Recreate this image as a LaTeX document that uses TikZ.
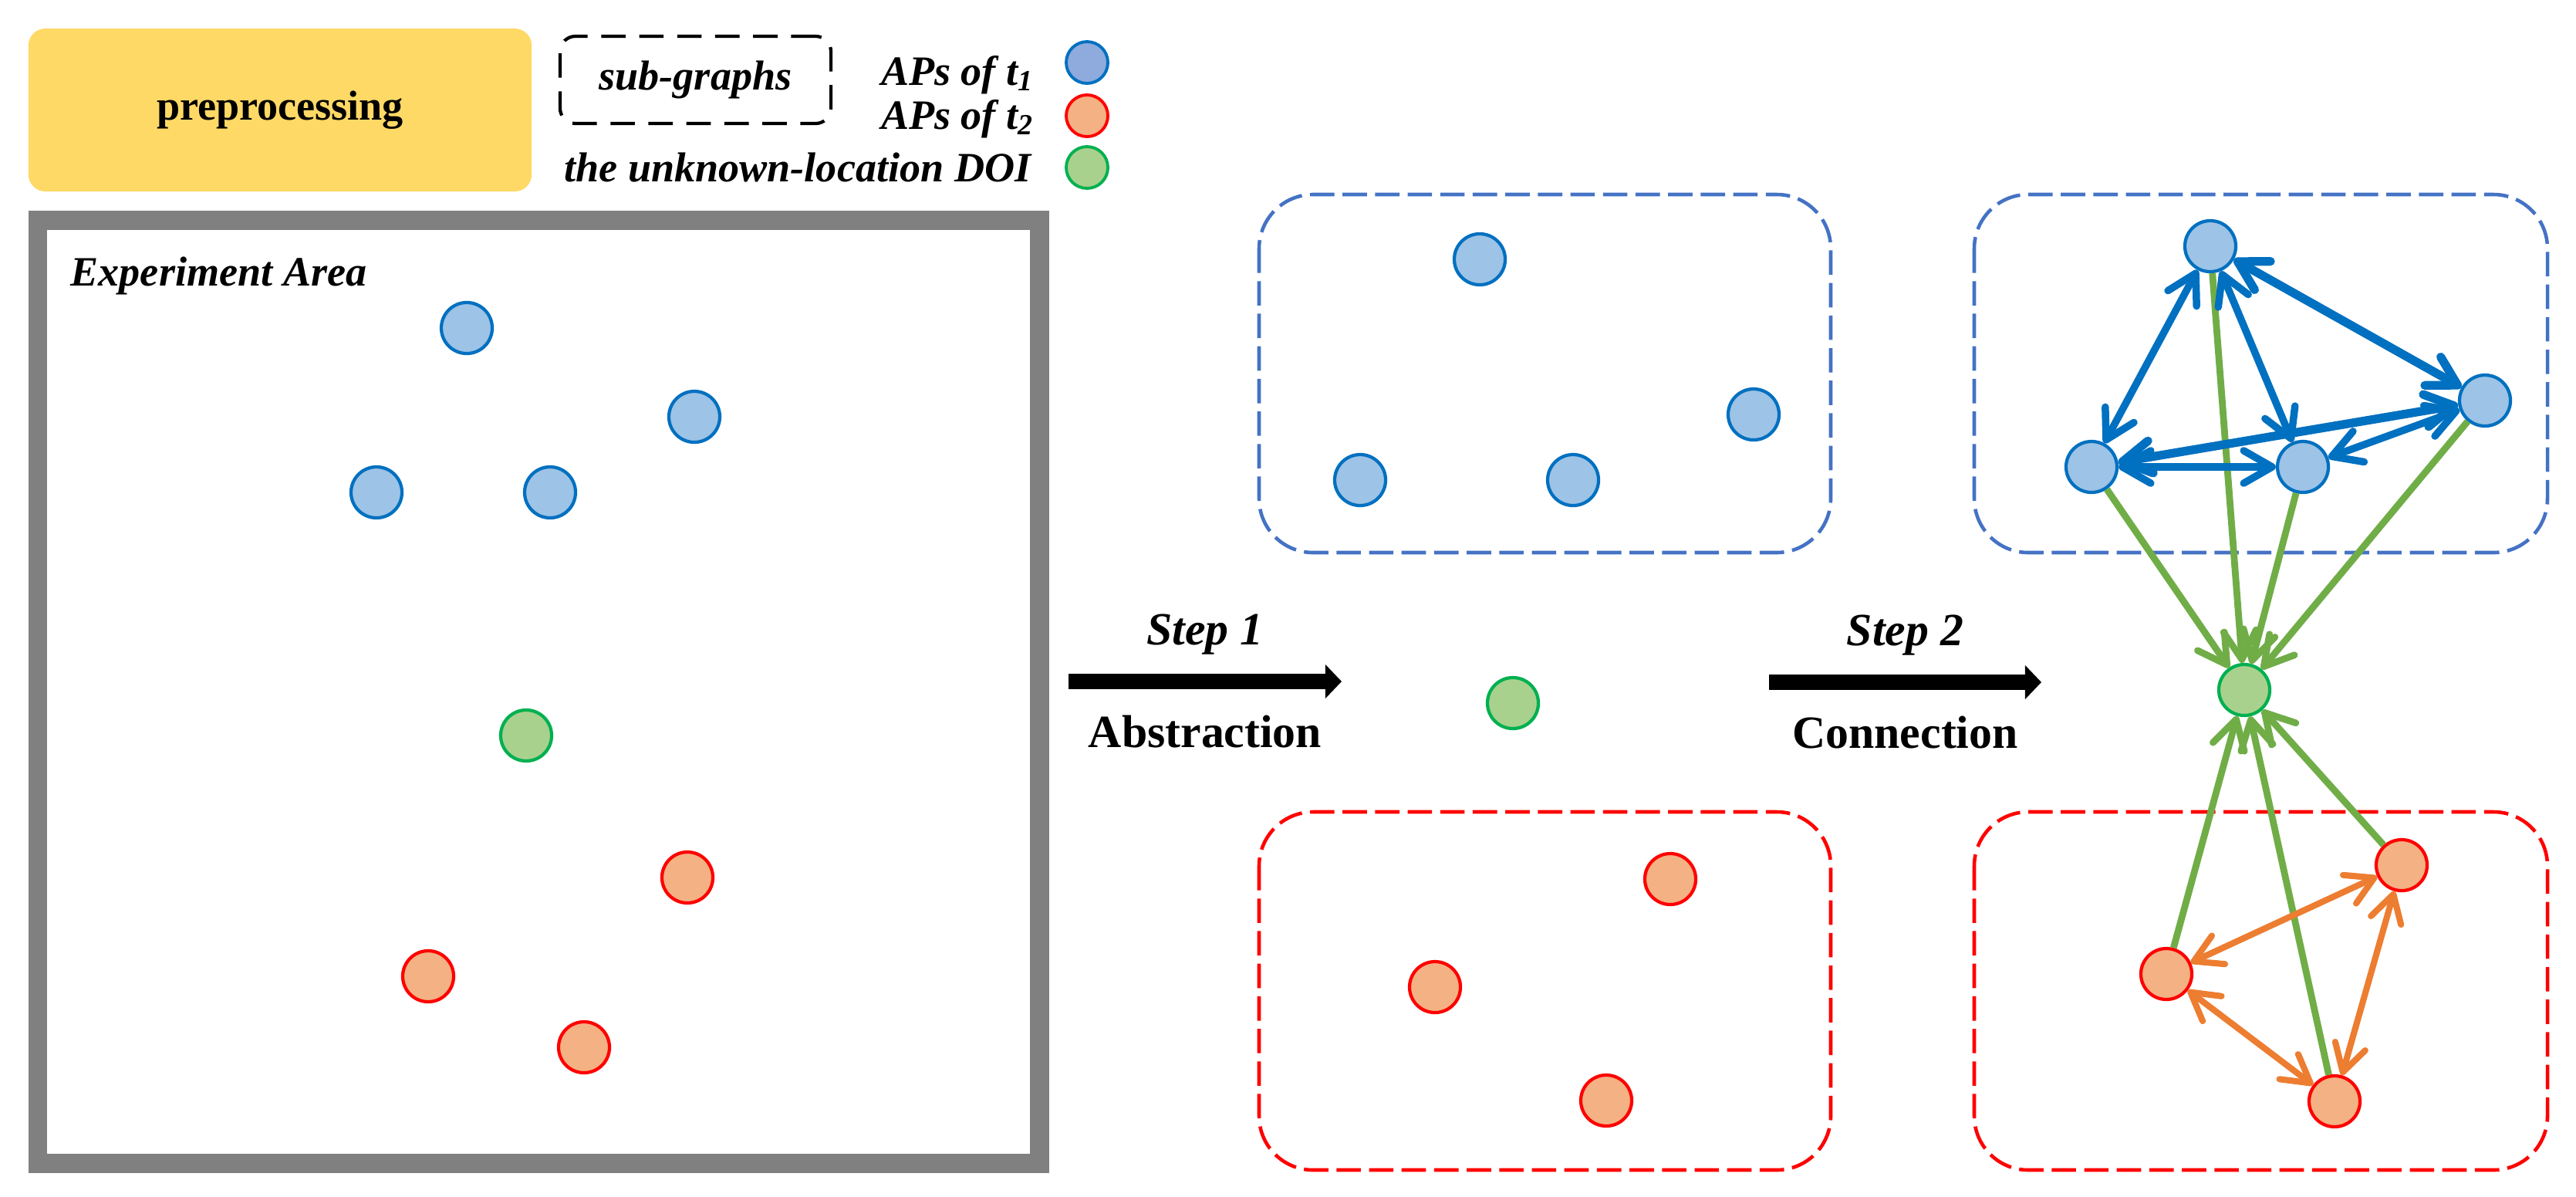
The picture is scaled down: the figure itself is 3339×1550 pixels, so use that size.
\documentclass[tikz,border=0pt]{standalone}
\usepackage{fontspec}
\setmainfont{Liberation Serif}
\usepackage{tikz}
\usetikzlibrary{shapes.geometric, arrows.meta, calc, positioning}
\usepackage{xcolor}
\definecolor{bluefill}{HTML}{9DC3E6}
\definecolor{legfill}{HTML}{8FAADC}
\definecolor{blueline}{HTML}{0070C0}
\definecolor{redfill}{HTML}{F4B183}
\definecolor{greenfill}{HTML}{A9D18E}
\definecolor{greenline}{HTML}{00B050}
\definecolor{boxblue}{HTML}{4472C4}
\definecolor{linkgreen}{HTML}{70AD47}
\definecolor{linkorange}{HTML}{ED7D31}
\definecolor{prepyellow}{HTML}{FFD966}
\definecolor{framegray}{HTML}{808080}

\begin{document}
\begin{tikzpicture}[x=0.01cm, y=-0.01cm]
	\tikzstyle{apone} = [circle, minimum size=0.66cm, inner sep=0, draw=blueline, fill=bluefill, line width=1.2pt]
	\tikzstyle{aptwo} = [circle, minimum size=0.66cm, inner sep=0, draw=red, fill=redfill, line width=1.2pt]
	\tikzstyle{doi} = [circle, minimum size=0.66cm, inner sep=0, draw=greenline, fill=greenfill, line width=1.2pt]
	\tikzstyle{legdot} = [circle, minimum size=0.54cm, inner sep=0, line width=1.1pt]
	\tikzstyle{legtext} = [inner sep=0, anchor=base east, font=\fontsize{15.4}{18}\selectfont\bfseries\itshape]
	\tikzstyle{bluebox} = [draw=boxblue, line width=1.3pt, dash pattern=on 9pt off 3pt, rounded corners=0.7cm]
	\tikzstyle{redbox} = [draw=red, line width=1.3pt, dash pattern=on 9pt off 3pt, rounded corners=0.7cm]
	\tikzstyle{bigarrow} = [line width=5.7pt, -{Triangle[length=6pt, width=12.2pt]}]
	\tikzstyle{steplabel} = [inner sep=0, font=\fontsize{17}{20}\selectfont\bfseries]
	\tikzstyle{bluelink} = [draw=blueline, line width=2.7pt, {Straight Barb[length=10.5pt, width=12pt, round]}-{Straight Barb[length=10.5pt, width=12pt, round]}]
	\tikzstyle{orangelink} = [draw=linkorange, line width=2.3pt, {Straight Barb[length=10pt, width=11.5pt, round]}-{Straight Barb[length=10pt, width=11.5pt, round]}]
	\tikzstyle{greenlink} = [draw=linkgreen, line width=2.5pt, -{Straight Barb[length=10.5pt, width=12pt, round]}]
  \useasboundingbox (0,0) rectangle (3339,1550);

  % legend
  \node(prep)[rectangle, rounded corners=0.22cm, fill=prepyellow, minimum width=6.52cm, minimum height=2.11cm, font=\fontsize{15.4}{18}\selectfont\bfseries] at (363,142.5) {preprocessing};
  \node(subg)[rectangle, rounded corners=0.2cm, draw, line width=1.2pt, dash pattern=on 9pt off 5pt, minimum width=3.51cm, minimum height=1.13cm, font=\fontsize{15.4}{18}\selectfont\bfseries\itshape] at (901.5,103.5) {sub-graphs};
  \node(lt1)[legtext] at (1341,110) {APs of t\textsubscript{1}};
  \node(lt2)[legtext] at (1341,167) {APs of t\textsubscript{2}};
  \node(lt3)[legtext] at (1337,235) {the unknown-location DOI};
  \node(lg1)[legdot, draw=blueline, fill=legfill] at (1409,81) {};
  \node(lg2)[legdot, draw=red, fill=redfill] at (1409,150) {};
  \node(lg3)[legdot, draw=greenline, fill=greenfill] at (1409,217) {};

  % experiment area
  \draw [draw=framegray, line width=7.1pt] (49,285) rectangle (1347,1507);
  \node(area)[inner sep=0, anchor=base west, font=\fontsize{15.4}{18}\selectfont\bfseries\itshape] at (91,370) {Experiment Area};
  \node(a1)[apone] at (605,425) {};
  \node(a2)[apone] at (900,540) {};
  \node(a3)[apone] at (488,638) {};
  \node(a4)[apone] at (713,638) {};
  \node(ad)[doi] at (682,953) {};
  \node(ar1)[aptwo] at (891,1137) {};
  \node(ar2)[aptwo] at (555,1265) {};
  \node(ar3)[aptwo] at (757,1357) {};

  % step 1
  \coordinate (s1a) at (1385,883);
  \coordinate (s1b) at (1739,883);
  \draw [bigarrow] (s1a) --node[steplabel, above=0.25cm]{\itshape Step 1} node[steplabel, below=0.34cm]{Abstraction} (s1b);

  % abstraction
  \draw [bluebox] (1632,252) rectangle (2373,716);
  \draw [redbox] (1632,1052) rectangle (2373,1516);
  \node(m1)[apone] at (1918,336) {};
  \node(m2)[apone] at (2273,537) {};
  \node(m3)[apone] at (1763,622) {};
  \node(m4)[apone] at (2039,622) {};
  \node(md)[doi] at (1961,911) {};
  \node(mr1)[aptwo] at (2165,1139) {};
  \node(mr2)[aptwo] at (1860,1279) {};
  \node(mr3)[aptwo] at (2082,1426) {};

  % step 2
  \coordinate (s2a) at (2293,884);
  \coordinate (s2b) at (2646,884);
  \draw [bigarrow] (s2a) --node[steplabel, above=0.25cm]{\itshape Step 2} node[steplabel, below=0.34cm]{Connection} (s2b);

  % connection
  \draw [bluebox] (2559,252) rectangle (3302,716);
  \draw [redbox] (2559,1052) rectangle (3302,1516);
  \node(c1)[apone] at (2865,319) {};
  \node(c2)[apone] at (2711,605) {};
  \node(c3)[apone] at (2985,605) {};
  \node(c4)[apone] at (3221,519) {};
  \node(cd)[doi] at (2909,894) {};
  \node(cr1)[aptwo] at (3113,1121) {};
  \node(cr2)[aptwo] at (2808,1262) {};
  \node(cr3)[aptwo] at (3026,1427) {};

  \draw [greenlink] (c1) -- (cd);
  \draw [greenlink] (c2) -- (cd);
  \draw [greenlink] (c3) -- (cd);
  \draw [greenlink] (c4) -- (cd);
  \draw [greenlink] (cr1) -- (cd);
  \draw [greenlink] (cr2) -- (cd);
  \draw [greenlink] (cr3) -- (cd);
  \draw [bluelink] (c1) -- (c2);
  \draw [bluelink] (c1) -- (c3);
  \draw [bluelink, line width=3.2pt] (c1) -- (c4);
  \draw [bluelink, line width=3.2pt] (c2) -- (c4);
  \draw [bluelink] (c2) -- (c3);
  \draw [bluelink] (c3) -- (c4);
  \draw [orangelink] (cr1) -- (cr2);
  \draw [orangelink] (cr2) -- (cr3);
  \draw [orangelink] (cr1) -- (cr3);
\end{tikzpicture}
\end{document}
